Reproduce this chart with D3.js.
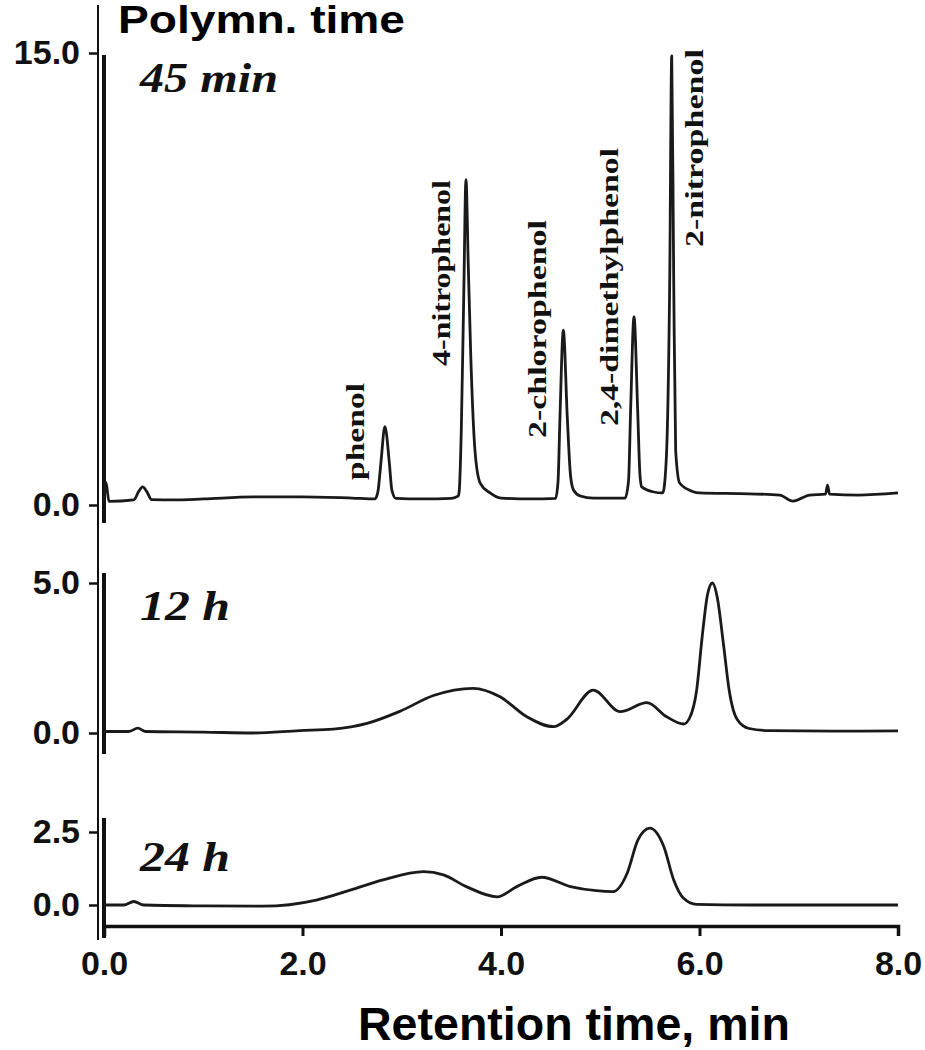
<!DOCTYPE html>
<html>
<head>
<meta charset="utf-8">
<script src="https://cdn.jsdelivr.net/npm/d3@7"></script>
<style>
  body { margin: 0; background: #fff; }
  svg { display: block; }
  .tick text { font-family: Arial, "Liberation Sans", sans-serif; font-weight: bold; font-size: 34px; fill: #111; }
</style>
</head>
<body>
<div id="chart"></div>
<script>
// retention time (min), detector response
var trace45min = [
  [0.00,0.10],[0.02,0.75],[0.05,0.12],[0.30,0.17],[0.35,0.45],[0.39,0.60],[0.43,0.45],[0.48,0.18],
  [0.70,0.17],[1.00,0.20],[1.50,0.27],[2.00,0.27],[2.50,0.23],[2.73,0.20],
  [2.76,0.45],[2.79,1.4],[2.83,2.6],[2.875,1.4],[2.90,0.5],[2.94,0.22],
  [3.20,0.20],[3.50,0.22],[3.57,0.30],[3.58,0.5],[3.60,2.5],[3.625,7.0],[3.647,10.8],[3.67,8.0],
  [3.694,5.1],[3.738,1.8],[3.79,0.73],[3.89,0.40],[4.00,0.23],[4.30,0.20],[4.55,0.22],
  [4.575,0.8],[4.594,2.9],[4.628,5.8],[4.668,2.9],[4.70,1.0],[4.73,0.5],[4.80,0.30],[4.93,0.23],[5.25,0.23],
  [5.285,0.8],[5.306,3.15],[5.34,6.25],[5.377,3.15],[5.40,1.0],[5.418,0.6],[5.53,0.44],[5.63,0.40],
  [5.665,1.5],[5.70,7.5],[5.72,14.9],[5.74,7.5],[5.76,1.8],[5.80,0.73],[5.93,0.45],
  [6.00,0.40],[6.50,0.37],[6.81,0.33],[6.94,0.13],[7.11,0.33],[7.27,0.36],[7.29,0.66],[7.31,0.36],
  [7.60,0.33],[8.00,0.40]
];
var trace12h = [
  [0.00,0.05],[0.25,0.05],[0.34,0.16],[0.42,0.05],[1.00,0.03],[1.50,0.00],[1.97,0.08],[2.31,0.13],
  [2.65,0.32],[2.98,0.72],[3.32,1.25],[3.72,1.49],[3.99,1.21],[4.26,0.54],[4.53,0.21],[4.66,0.45],
  [4.93,1.43],[5.20,0.71],[5.47,1.01],[5.67,0.54],[5.84,0.30],[5.90,0.5],[5.97,1.4],[6.03,3.3],
  [6.08,4.6],[6.13,5.0],[6.18,4.5],[6.24,3.0],[6.30,1.4],[6.38,0.45],[6.50,0.15],[6.70,0.08],
  [7.50,0.06],[8.00,0.07]
];
var trace24h = [
  [0.00,0.00],[0.20,0.00],[0.30,0.12],[0.40,0.00],[1.00,-0.03],[1.60,-0.04],[2.14,0.17],
  [2.48,0.51],[2.81,0.86],[3.22,1.14],[3.42,1.03],[3.65,0.63],[3.96,0.28],[4.16,0.63],[4.41,0.95],
  [4.70,0.63],[4.96,0.49],[5.13,0.46],[5.27,1.08],[5.38,2.23],[5.50,2.63],[5.64,2.00],[5.74,0.86],
  [5.84,0.23],[5.97,0.02],[6.50,0.00],[8.00,0.00]
];

var panelNames = ["45 min", "12 h", "24 h"];
var panelTicks = [[0, 15], [0, 5], [0, 2.5]];
var panelMax = [15, 5, 2.5];
var xTicks = [0, 2, 4, 6, 8];

// peak names in the 45 min run
var peakNames = ["phenol", "4-nitrophenol", "2-chlorophenol", "2,4-dimethylphenol", "2-nitrophenol"];

var width = 925, height = 1050;

var svg = d3.select("#chart").append("svg")
  .attr("width", width)
  .attr("height", height);

var x = d3.scaleLinear().domain([0, 8]).range([104, 898]);

// each panel: zero line and top tick in pixels
var panels = [
  { data: trace45min, y0: 505, y1: 53,  frame: [55, 523],  label: [140, 92, 138] },
  { data: trace12h,   y0: 733, y1: 583, frame: [573, 754], label: [140, 620, 90] },
  { data: trace24h,   y0: 905, y1: 832, frame: [818, 938], label: [140, 871, 90] }
];

// outer thin y-axis line
svg.append("line")
  .attr("x1", 98).attr("x2", 98)
  .attr("y1", 5).attr("y2", 940)
  .attr("stroke", "#111").attr("stroke-width", 2);

panels.forEach(function(p, i) {
  var y = d3.scaleLinear().domain([0, panelMax[i]]).range([p.y0, p.y1]);

  var ax = svg.append("g")
    .attr("transform", "translate(98,0)")
    .call(d3.axisLeft(y).tickValues(panelTicks[i]).tickSize(9).tickPadding(9).tickFormat(d3.format(".1f")));
  ax.select(".domain").remove();
  ax.selectAll(".tick line").attr("stroke", "#111").attr("stroke-width", 2.5);

  // thick inner frame line of the panel
  svg.append("line")
    .attr("x1", 104).attr("x2", 104)
    .attr("y1", p.frame[0]).attr("y2", p.frame[1])
    .attr("stroke", "#111").attr("stroke-width", 4);

  var line = d3.line()
    .x(function(d) { return x(d[0]); })
    .y(function(d) { return y(d[1]); })
    .curve(d3.curveMonotoneX);

  svg.append("path")
    .datum(p.data)
    .attr("d", line)
    .attr("fill", "none")
    .attr("stroke", "#1a1a1a")
    .attr("stroke-width", 2.8)
    .attr("stroke-linejoin", "round");

  svg.append("text")
    .attr("x", p.label[0])
    .attr("y", p.label[1])
    .attr("textLength", p.label[2])
    .attr("lengthAdjust", "spacingAndGlyphs")
    .style("font-family", "'Liberation Serif', 'DejaVu Serif', serif")
    .style("font-weight", "bold")
    .style("font-style", "italic")
    .style("font-size", "42px")
    .style("fill", "#111")
    .text(panelNames[i]);
});

// x axis
var xa = svg.append("g")
  .attr("transform", "translate(0,926)")
  .call(d3.axisBottom(x).tickValues(xTicks).tickSize(10).tickPadding(15).tickFormat(d3.format(".1f")));
xa.select(".domain").attr("stroke", "#111").attr("stroke-width", 3.5);
xa.selectAll(".tick line").attr("stroke", "#111").attr("stroke-width", 3);

// rotated peak labels: [baseline x, bottom y, length]
var peakPos = [[364, 480, 97], [450, 366, 186], [546, 438, 218], [618, 426, 278], [703, 247, 198]];
svg.selectAll(".peak")
  .data(peakNames)
  .enter().append("text")
  .attr("class", "peak")
  .attr("transform", function(d, i) { return "translate(" + peakPos[i][0] + "," + peakPos[i][1] + ") rotate(-90)"; })
  .attr("textLength", function(d, i) { return peakPos[i][2]; })
  .attr("lengthAdjust", "spacingAndGlyphs")
  .style("font-family", "'Liberation Serif', 'DejaVu Serif', serif")
  .style("font-weight", "bold")
  .style("font-size", "26px")
  .style("fill", "#111")
  .text(function(d) { return d; });

// titles
svg.append("text")
  .attr("x", 118).attr("y", 33)
  .attr("textLength", 287)
  .attr("lengthAdjust", "spacingAndGlyphs")
  .style("font-family", "Arial, 'Liberation Sans', sans-serif")
  .style("font-weight", "bold")
  .style("font-size", "38px")
  .style("fill", "#000")
  .text("Polymn. time");

svg.append("text")
  .attr("x", 358).attr("y", 1040)
  .attr("textLength", 432)
  .attr("lengthAdjust", "spacingAndGlyphs")
  .style("font-family", "Arial, 'Liberation Sans', sans-serif")
  .style("font-weight", "bold")
  .style("font-size", "46px")
  .style("fill", "#000")
  .text("Retention time, min");
</script>
</body>
</html>
